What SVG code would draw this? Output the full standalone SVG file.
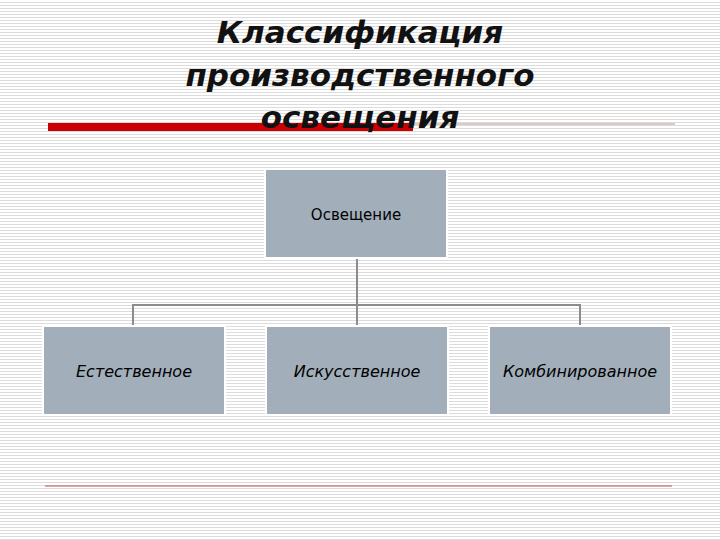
<svg xmlns="http://www.w3.org/2000/svg" width="720" height="540" viewBox="0 0 720 540">
<defs>
<pattern id="st" width="4" height="3" patternUnits="userSpaceOnUse"><rect width="4" height="3" fill="#ffffff"/><rect y="2" width="4" height="1" fill="#dcdcdc"/></pattern>
<style>
.box{fill:#a2afbb;stroke:#ffffff;stroke-width:2}
.t{font-family:"DejaVu Sans",sans-serif;font-size:16px;font-style:italic;text-anchor:middle;fill:#000}
.c{fill:none;stroke:#8c8c8c;stroke-width:2}
.h{font-family:"DejaVu Sans",sans-serif;font-size:31px;font-weight:bold;font-style:italic;text-anchor:middle;fill:#111}
</style>
</defs>
<rect width="720" height="540" fill="url(#st)"/>
<rect x="48" y="123" width="365" height="8" fill="#cc0000"/>
<line x1="413" y1="124" x2="675" y2="124" stroke="#c09090" stroke-width="1"/>
<line x1="45" y1="486" x2="672" y2="486" stroke="#c05050" stroke-width="1"/>
<g id="title">
<text class="h" x="360" y="43">Классификация</text>
<text class="h" x="360" y="86">производственного</text>
<text class="h" x="360" y="128">освещения</text>
</g>
<g id="connectors">
<path class="c" d="M357 258V305M133 326V305H580V326M357 305V326"/>
</g>
<g id="n0"><rect class="box" x="265" y="169" width="182" height="89"/><text class="t" x="356" y="220" style="font-style:normal;font-size:15px">Освещение</text></g>
<g id="n1"><rect class="box" x="43" y="326" width="182" height="89"/><text class="t" x="134" y="377">Естественное</text></g>
<g id="n2"><rect class="box" x="266" y="326" width="182" height="89"/><text class="t" x="357" y="377">Искусственное</text></g>
<g id="n3"><rect class="box" x="489" y="326" width="182" height="89"/><text class="t" x="580" y="377">Комбинированное</text></g>
</svg>
